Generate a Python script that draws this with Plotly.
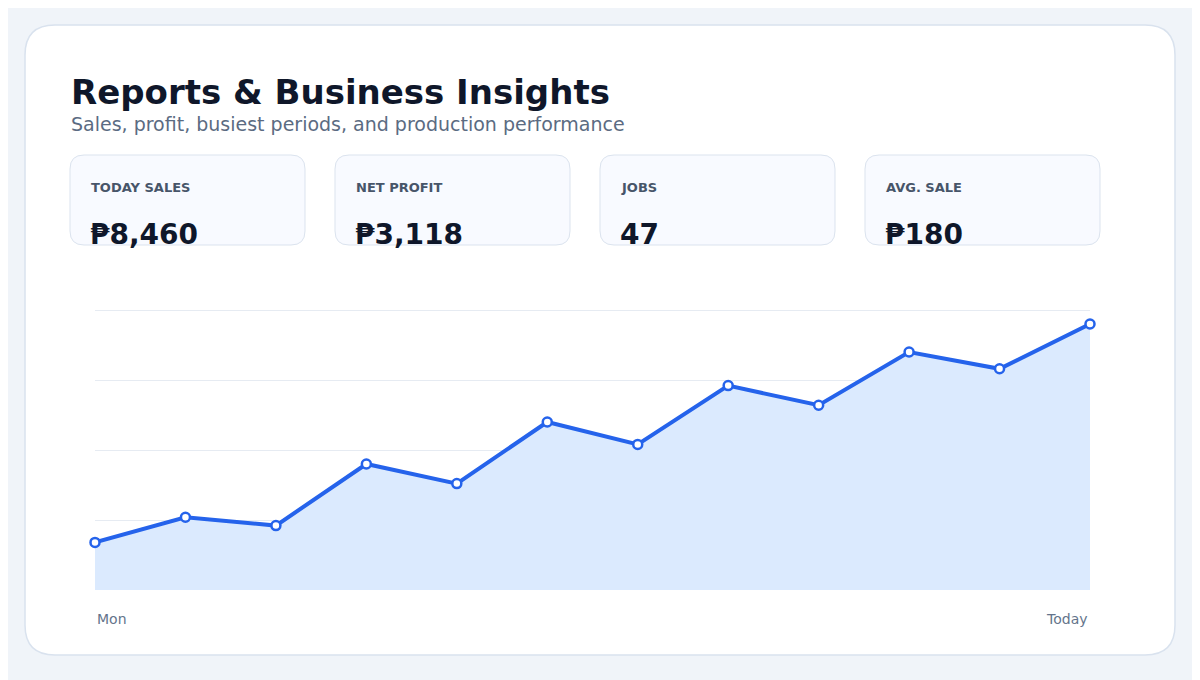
import plotly.graph_objects as go

# data
days = list(range(12))
sales = [17, 26, 23, 45, 38, 60, 52, 73, 66, 85, 79, 95]
x_labels = ["Mon", "Today"]

kpi_labels = ["TODAY SALES", "NET PROFIT", "JOBS", "AVG. SALE"]
kpi_values = ["₱8,460", "₱3,118", "47", "₱180"]

W, H = 1200, 680
OFF = 8  # page body margin shifts the figure
FONT = "DejaVu Sans"


def px(x):
    return (x - OFF) / W


def py(y):
    return 1 - (y - OFF) / H


def rounded(x0, y0, x1, y1, r):
    # rounded rectangle path, pixel coords -> paper coords
    X = lambda v: px(v)
    Y = lambda v: py(v)
    return (f"M {X(x0 + r)} {Y(y0)} L {X(x1 - r)} {Y(y0)} "
            f"Q {X(x1)} {Y(y0)} {X(x1)} {Y(y0 + r)} L {X(x1)} {Y(y1 - r)} "
            f"Q {X(x1)} {Y(y1)} {X(x1 - r)} {Y(y1)} L {X(x0 + r)} {Y(y1)} "
            f"Q {X(x0)} {Y(y1)} {X(x0)} {Y(y1 - r)} L {X(x0)} {Y(y0 + r)} "
            f"Q {X(x0)} {Y(y0)} {X(x0 + r)} {Y(y0)} Z")


fig = go.Figure()
fig.add_trace(go.Scatter(
    x=days, y=sales, mode="lines+markers", cliponaxis=False,
    line=dict(color="#2563eb", width=4),
    marker=dict(size=9, color="white", line=dict(color="#2563eb", width=2.5)),
    fill="tozeroy", fillcolor="#dbeafe", hoverinfo="skip"))

shapes = [dict(type="path", xref="paper", yref="paper", layer="below",
               path=rounded(25, 25, 1175, 655, 30),
               fillcolor="white", line=dict(color="#d9e2ee", width=1.5))]
annotations = [
    dict(text="<b>Reports & Business Insights</b>", x=px(69), y=py(92),
         font=dict(size=34, color="#0f172a")),
    dict(text="Sales, profit, busiest periods, and production performance",
         x=px(69), y=py(124), font=dict(size=19, color="#5b6b82")),
]
for i, (lab, val) in enumerate(zip(kpi_labels, kpi_values)):
    x0 = 70 + i * 265
    shapes.append(dict(type="path", xref="paper", yref="paper", layer="below",
                       path=rounded(x0, 155, x0 + 235, 245, 14),
                       fillcolor="#f8faff", line=dict(color="#dbe3ee", width=1)))
    annotations.append(dict(text=f"<b>{lab}</b>", x=px(x0 + 19), y=py(188),
                            font=dict(size=13, color="#475569")))
    annotations.append(dict(text=f"<b>{val}</b>", x=px(x0 + 18), y=py(235),
                            font=dict(size=28, color="#0f172a")))
for a in annotations:
    a.update(xref="paper", yref="paper", xanchor="left", yanchor="middle",
             showarrow=False)

annotations.append(dict(text=x_labels[0], x=days[0], y=py(619), xref="x", yref="paper",
                        xanchor="left", yanchor="middle", showarrow=False,
                        font=dict(size=14, color="#64748b")))
annotations.append(dict(text=x_labels[1], x=days[-1], y=py(619), xref="x", yref="paper",
                        xanchor="right", yanchor="middle", showarrow=False,
                        font=dict(size=14, color="#64748b")))

fig.update_layout(
    width=W, height=H, margin=dict(l=0, r=0, t=0, b=0),
    paper_bgcolor="#f0f4f9", plot_bgcolor="rgba(0,0,0,0)",
    font=dict(family=FONT), showlegend=False,
    shapes=shapes, annotations=annotations,
    xaxis=dict(domain=[px(95), px(1090)], range=[days[0], days[-1]],
               showgrid=False, zeroline=False, showticklabels=False, fixedrange=True),
    yaxis=dict(domain=[py(590), py(305)], range=[0, 100 * 285 / 280],
               tickvals=[25, 50, 75, 100],
               gridcolor="#e6ebf2", gridwidth=1, zeroline=False,
               showticklabels=False, fixedrange=True),
)
fig.write_html("out.html")
